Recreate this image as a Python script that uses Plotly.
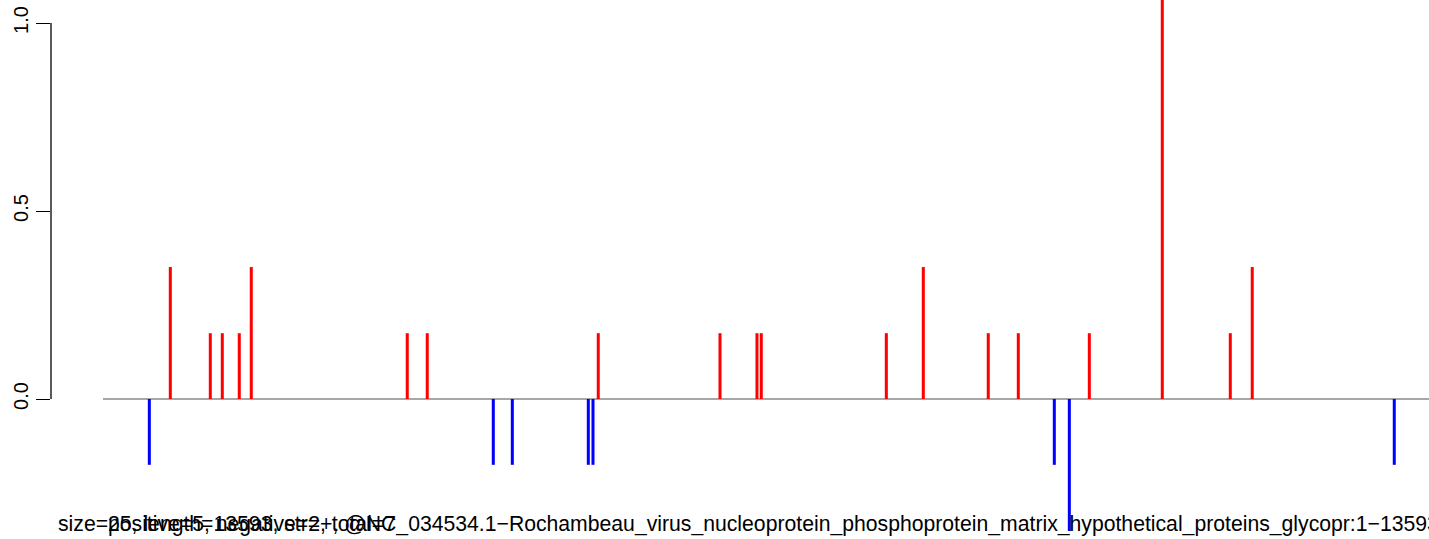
import plotly.graph_objects as go

# ---- data ----
pos_x = [690, 1100, 1223, 1397, 1520, 3119, 3324, 5077, 6325, 6704, 6748,
         8030, 8409, 9075, 9383, 10111, 10859, 11556, 11781]
pos_y = [0.351, 0.175, 0.175, 0.175, 0.351, 0.175, 0.175, 0.175, 0.175, 0.175, 0.175,
         0.175, 0.351, 0.175, 0.175, 0.175, 1.10, 0.175, 0.351]
neg_x = [475, 4001, 4196, 4975, 5023, 9752, 9906, 13237]
neg_y = [-0.175, -0.175, -0.175, -0.175, -0.175, -0.175, -0.351, -0.175]
genome_len = 13593
y_ticks = [0, 0.5, 1.0]
y_tick_labels = ["0.0", "0.5", "1.0"]
label_main = ("size=25, length=13593, str=+, @NC_034534.1\u2212Rochambeau_virus_nucleoprotein_"
              "phosphoprotein_matrix_hypothetical_proteins_glycopr:1\u221213593")
label_counts = "positive=5, negative=2, total=7"

FONT = "Liberation Sans, Arial, Helvetica, sans-serif"
W, H = 1429, 539
L = 51
plot_w = W - L

fig = go.Figure()
fig.add_trace(go.Bar(x=pos_x, y=pos_y, width=31, marker=dict(color="#FF0000", line=dict(width=0)),
                     showlegend=False, hoverinfo="x+y"))
fig.add_trace(go.Bar(x=neg_x, y=neg_y, width=31, marker=dict(color="#0000FF", line=dict(width=0)),
                     showlegend=False, hoverinfo="x+y"))

# zero baseline
fig.add_shape(type="line", xref="x", yref="y", x0=0, x1=genome_len, y0=0, y1=0,
              line=dict(color="#8a8a8a", width=1.5), layer="below")
# R-style y axis line spanning first to last tick
fig.add_shape(type="line", xref="paper", yref="y", x0=0, x1=0, y0=y_ticks[0], y1=y_ticks[-1],
              line=dict(color="black", width=1.3))

def px2paper(px):
    return (px - L) / plot_w

fig.add_annotation(text=label_main, xref="paper", yref="paper", x=px2paper(56), y=0.027,
                   xanchor="left", yanchor="middle", showarrow=False,
                   font=dict(family=FONT, size=21.2, color="black"))
fig.add_annotation(text=label_counts, xref="paper", yref="paper", x=px2paper(106), y=0.027,
                   xanchor="left", yanchor="middle", showarrow=False,
                   font=dict(family=FONT, size=21.2, color="black"))

fig.update_layout(
    width=W, height=H,
    margin=dict(l=L, r=0, t=0, b=0, autoexpand=False),
    paper_bgcolor="white", plot_bgcolor="white",
    barmode="overlay",
    xaxis=dict(range=[-533, genome_len], visible=False),
    yaxis=dict(range=[-0.3723, 1.0612], tickvals=y_ticks, ticktext=y_tick_labels,
               ticks="outside", ticklen=14, tickwidth=1.3, tickcolor="black",
               tickangle=-90, showgrid=False, zeroline=False, showline=False,
               automargin=False, ticklabelstandoff=0,
               tickfont=dict(family=FONT, size=20, color="black")),
    font=dict(family=FONT),
)

fig.write_html("out.html", config={"displayModeBar": False},
               post_script="document.body.style.margin='0';document.body.style.overflow='hidden';")
